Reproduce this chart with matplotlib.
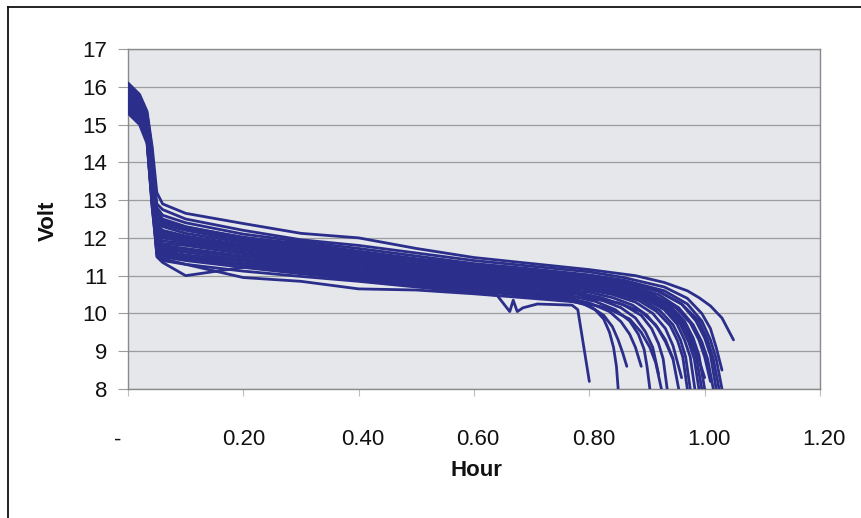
import matplotlib
matplotlib.use("Agg")
import matplotlib.pyplot as plt
from matplotlib.lines import Line2D
from matplotlib.transforms import ScaledTranslation

plt.rcParams['font.family'] = ['Liberation Sans', 'DejaVu Sans']

# shared x grid (hours) for the start / plateau of every discharge curve
X_HEAD = [0.0, 0.02, 0.033, 0.042, 0.05, 0.06, 0.1, 0.2, 0.3, 0.4, 0.5, 0.6]

# voltage of each curve on X_HEAD
Y_HEAD = [
    [16.1, 15.8, 15.35, 14.4, 13.2, 12.9, 12.65, 12.38, 12.12, 12.0, 11.72, 11.48],
    [16.0, 15.7, 15.2, 14.0, 12.9, 12.75, 12.5, 12.2, 11.95, 11.8, 11.6, 11.4],
    [15.9, 15.6, 15.1, 13.8, 12.8, 12.6, 12.4, 12.1, 11.9, 11.72, 11.52, 11.32],
    [16.05, 15.75, 15.3, 14.2, 12.7, 12.5, 12.3, 12.0, 11.85, 11.65, 11.45, 11.28],
    [15.8, 15.5, 15.0, 13.6, 12.6, 12.45, 12.25, 11.95, 11.8, 11.6, 11.4, 11.22],
    [15.95, 15.65, 15.2, 14.1, 12.5, 12.35, 12.2, 11.92, 11.75, 11.55, 11.38, 11.18],
    [15.7, 15.4, 14.9, 13.4, 12.4, 12.3, 12.12, 11.88, 11.7, 11.5, 11.32, 11.15],
    [16.0, 15.7, 15.25, 14.3, 12.35, 12.2, 12.05, 11.82, 11.65, 11.45, 11.28, 11.1],
    [15.6, 15.3, 14.8, 13.2, 12.3, 12.15, 12.0, 11.78, 11.6, 11.42, 11.25, 11.08],
    [15.85, 15.55, 15.1, 13.9, 12.2, 12.05, 11.95, 11.72, 11.55, 11.38, 11.2, 11.02],
    [15.5, 15.2, 14.7, 13.0, 12.1, 12.0, 11.9, 11.68, 11.5, 11.32, 11.15, 10.98],
    [15.75, 15.45, 15.0, 13.7, 12.05, 11.92, 11.85, 11.62, 11.45, 11.28, 11.1, 10.95],
    [15.9, 15.6, 15.15, 14.0, 12.0, 11.85, 11.8, 11.58, 11.4, 11.22, 11.06, 10.9],
    [15.4, 15.1, 14.6, 12.9, 11.95, 11.8, 11.72, 11.52, 11.35, 11.18, 11.02, 10.85],
    [15.65, 15.35, 14.9, 13.6, 11.9, 11.75, 11.68, 11.48, 11.3, 11.15, 10.98, 10.82],
    [15.8, 15.5, 15.05, 13.9, 11.85, 11.7, 11.62, 11.42, 11.25, 11.1, 10.94, 10.78],
    [15.55, 15.25, 14.75, 13.3, 11.8, 11.65, 11.55, 11.38, 11.2, 11.05, 10.9, 10.74],
    [15.3, 15.0, 14.5, 12.8, 11.75, 11.6, 11.5, 11.32, 11.15, 11.0, 10.85, 10.7],
    [15.7, 15.4, 14.95, 13.7, 11.7, 11.55, 11.45, 11.28, 11.1, 10.95, 10.8, 10.65],
    [15.45, 15.15, 14.65, 13.1, 11.65, 11.5, 11.4, 11.22, 11.05, 10.9, 10.75, 10.6],
    [15.35, 15.05, 14.55, 12.9, 11.55, 11.4, 11.3, 11.12, 10.98, 10.85, 10.7, 10.55],
    [15.6, 15.3, 14.85, 13.5, 12.55, 12.4, 12.28, 12.02, 11.82, 11.62, 11.42, 11.25],
    [15.75, 15.45, 15.0, 13.8, 12.15, 12.0, 11.92, 11.7, 11.52, 11.35, 11.18, 11.0],
    [15.5, 15.2, 14.7, 13.1, 12.25, 12.1, 11.98, 11.75, 11.58, 11.4, 11.22, 11.05],
    [15.4, 15.1, 14.6, 12.8, 11.6, 11.45, 11.3, 10.95, 10.85, 10.65, 10.62, 10.52],
    [15.5, 15.2, 14.7, 13.2, 11.5, 11.35, 11.0, 11.22, 11.15, 11.0, 10.85, 10.68],
]

# end of each curve (knee and final drop)
X_TAIL = [
    [0.7, 0.8, 0.88, 0.93, 0.97, 0.99, 1.01, 1.03, 1.05],
    [0.7, 0.8, 0.86, 0.93, 0.97, 0.995, 1.01, 1.02, 1.03],
    [0.7, 0.8, 0.86, 0.93, 0.97, 0.995, 1.01, 1.02, 1.03],
    [0.7, 0.8, 0.86, 0.92, 0.96, 0.985, 1.0, 1.01, 1.02],
    [0.7, 0.8, 0.86, 0.92, 0.955, 0.98, 0.995, 1.005, 1.015],
    [0.7, 0.8, 0.86, 0.91, 0.95, 0.975, 0.99, 1.0, 1.01],
    [0.7, 0.8, 0.85, 0.9, 0.94, 0.965, 0.98, 0.99, 1.0],
    [0.7, 0.8, 0.85, 0.9, 0.935, 0.96, 0.975, 0.985, 0.995],
    [0.7, 0.8, 0.85, 0.9, 0.935, 0.958, 0.972, 0.987],
    [0.7, 0.8, 0.85, 0.895, 0.93, 0.952, 0.965, 0.975, 0.983],
    [0.7, 0.8, 0.845, 0.89, 0.922, 0.945, 0.958, 0.967, 0.975],
    [0.7, 0.8, 0.84, 0.885, 0.917, 0.94, 0.953, 0.962, 0.97],
    [0.7, 0.8, 0.84, 0.88, 0.91, 0.932, 0.945, 0.96],
    [0.7, 0.8, 0.84, 0.875, 0.9, 0.918, 0.932, 0.945],
    [0.7, 0.78, 0.82, 0.86, 0.89, 0.908, 0.92, 0.928, 0.935],
    [0.7, 0.78, 0.82, 0.855, 0.88, 0.897, 0.91, 0.92],
    [0.7, 0.77, 0.81, 0.845, 0.87, 0.885, 0.895, 0.9, 0.905],
    [0.7, 0.76, 0.8, 0.835, 0.855, 0.87, 0.88, 0.89],
    [0.7, 0.76, 0.8, 0.825, 0.84, 0.85, 0.858, 0.865],
    [0.7, 0.76, 0.79, 0.81, 0.825, 0.835, 0.842, 0.847, 0.85],
    [0.64, 0.662, 0.668, 0.675, 0.685, 0.71, 0.77, 0.78, 0.80],
    [0.7, 0.8, 0.86, 0.92, 0.96, 0.99, 1.005, 1.015, 1.025],
    [0.7, 0.8, 0.85, 0.9, 0.935, 0.958, 0.972, 0.982, 0.99],
    [0.7, 0.8, 0.85, 0.9, 0.94, 0.965, 0.98, 1.0],
    [0.7, 0.78, 0.83, 0.87, 0.89, 0.905, 0.915, 0.925],
    [0.7, 0.8, 0.85, 0.89, 0.915, 0.932, 0.945, 0.955],
]
Y_TAIL = [
    [11.32, 11.16, 11.0, 10.82, 10.6, 10.42, 10.2, 9.88, 9.3],
    [11.25, 11.1, 10.95, 10.7, 10.4, 10.0, 9.6, 9.1, 8.5],
    [11.18, 11.02, 10.88, 10.6, 10.25, 9.8, 9.3, 8.8, 8.0],
    [11.12, 10.98, 10.85, 10.6, 10.25, 9.8, 9.35, 8.9, 8.0],
    [11.08, 10.92, 10.78, 10.5, 10.15, 9.7, 9.25, 8.8, 8.0],
    [11.02, 10.88, 10.72, 10.5, 10.15, 9.75, 9.3, 8.85, 8.2],
    [11.0, 10.84, 10.72, 10.52, 10.2, 9.8, 9.35, 8.9, 8.0],
    [10.95, 10.8, 10.68, 10.48, 10.18, 9.78, 9.35, 8.9, 8.0],
    [10.92, 10.78, 10.65, 10.45, 10.15, 9.8, 9.4, 8.8],
    [10.88, 10.74, 10.6, 10.4, 10.1, 9.72, 9.3, 8.85, 8.0],
    [10.84, 10.7, 10.58, 10.38, 10.08, 9.7, 9.3, 8.85, 8.0],
    [10.8, 10.66, 10.55, 10.35, 10.05, 9.68, 9.28, 8.85, 8.0],
    [10.75, 10.62, 10.5, 10.3, 10.0, 9.6, 9.15, 8.3],
    [10.7, 10.56, 10.42, 10.22, 9.95, 9.62, 9.25, 8.8],
    [10.68, 10.55, 10.42, 10.22, 9.95, 9.6, 9.2, 8.8, 8.0],
    [10.62, 10.5, 10.36, 10.15, 9.88, 9.52, 9.1, 8.4],
    [10.58, 10.46, 10.32, 10.1, 9.8, 9.45, 9.05, 8.6, 8.0],
    [10.55, 10.42, 10.28, 10.05, 9.78, 9.45, 9.1, 8.6],
    [10.5, 10.38, 10.2, 9.95, 9.65, 9.3, 8.95, 8.6],
    [10.45, 10.35, 10.25, 10.1, 9.85, 9.5, 9.1, 8.6, 8.0],
    [10.48, 10.05, 10.35, 10.05, 10.15, 10.25, 10.22, 10.1, 8.2],
    [11.1, 10.95, 10.82, 10.58, 10.25, 9.8, 9.3, 8.8, 8.0],
    [10.86, 10.72, 10.6, 10.4, 10.1, 9.7, 9.25, 8.8, 8.0],
    [10.9, 10.76, 10.64, 10.45, 10.12, 9.72, 9.25, 8.3],
    [10.4, 10.3, 10.15, 9.85, 9.5, 9.1, 8.7, 8.0],
    [10.52, 10.4, 10.28, 10.05, 9.7, 9.3, 8.8, 8.0],
]

X_TICKS = [0.0, 0.2, 0.4, 0.6, 0.8, 1.0, 1.2]
X_TICK_LABELS = ["-", "0.20", "0.40", "0.60", "0.80", "1.00", "1.20"]
Y_TICKS = [8, 9, 10, 11, 12, 13, 14, 15, 16, 17]

LINE_COLOR = "#2b2e8a"
W, H = 861, 518

fig = plt.figure(figsize=(W / 100, H / 100), dpi=100)
fig.patch.set_facecolor("white")
ax = fig.add_axes([128 / W, 1 - 389 / H, 692 / W, 340 / H])
ax.set_facecolor("#e5e7eb")

for yh, xt, yt in zip(Y_HEAD, X_TAIL, Y_TAIL):
    xs = [x for x in X_HEAD if x < xt[0]] + xt
    ys = yh[:len(xs) - len(xt)] + yt
    ax.plot(xs, ys, color=LINE_COLOR, lw=2.0, solid_joinstyle="round",
            solid_capstyle="round", zorder=3)

ax.set_xlim(0, 1.2)
ax.set_ylim(8, 17)
ax.set_xticks(X_TICKS)
ax.set_xticklabels(X_TICK_LABELS)
ax.set_yticks(Y_TICKS)
ax.yaxis.grid(True, color="#9c9c9c", lw=0.9)
ax.set_axisbelow(True)
for s in ax.spines.values():
    s.set_color("#8a8a8a")
    s.set_linewidth(1.0)
ax.tick_params(axis="y", length=7, color="#9c9c9c", pad=8, labelsize=16, labelcolor="#111111")
ax.tick_params(axis="x", length=5, color="#bdbdbd", pad=24, labelsize=16, labelcolor="#111111")

# the zero label ("-") sits a little left of its tick, as in the original
first = ax.get_xticklabels()[0]
first.set_transform(first.get_transform() + ScaledTranslation(-10 / 100, 0, fig.dpi_scale_trans))
# other labels sit slightly right of their ticks
for lab in ax.get_xticklabels()[2:]:
    lab.set_transform(lab.get_transform() + ScaledTranslation(4 / 100, 0, fig.dpi_scale_trans))

fig.text(48 / W, 1 - 221 / H, "Volt", rotation=90, ha="center", va="center",
         fontsize=16, fontweight="bold", color="#111111")
fig.text(476 / W, 1 - 470 / H, "Hour", ha="center", va="center",
         fontsize=16, fontweight="bold", color="#111111")

# outer chart frame (left and top edges visible)
fig.add_artist(Line2D([8 / W, 8 / W], [0, 1 - 7 / H], color="#111111", lw=1.3))
fig.add_artist(Line2D([8 / W, 1], [1 - 7 / H, 1 - 7 / H], color="#111111", lw=1.3))

fig.savefig("out.png", dpi=100)
